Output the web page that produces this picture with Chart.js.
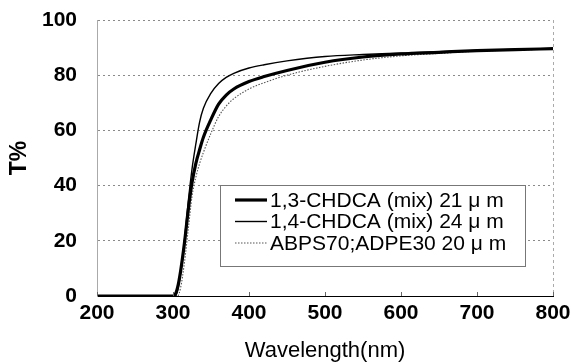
<!DOCTYPE html>
<html><head><meta charset="utf-8">
<script src="https://cdn.jsdelivr.net/npm/chart.js@4/dist/chart.umd.min.js"></script>
<style>html,body{margin:0;padding:0;background:#fff}#w{width:571px;height:364px;position:relative}</style>
</head><body><div id="w"><canvas id="c" width="571" height="364"></canvas></div>
<script>
const wavelengths = [200, 300, 303, 306, 310, 315, 320, 325, 330, 335, 340, 350, 360, 370, 380, 400, 420, 450, 500, 550, 600, 650, 700, 750, 800];
const chdca13 = [0, 0, 0.5, 3, 9, 19, 31, 41, 48, 53, 57.5, 64, 69.5, 72.8, 75, 77.7, 79.5, 81.7, 84.7, 86.6, 87.7, 88.3, 88.9, 89.3, 89.6];
const chdca14 = [0, 0, 0, 2, 8, 20, 34, 46, 55, 63, 68, 73.5, 77, 79.2, 80.7, 82.6, 83.8, 85.2, 86.8, 87.5, 88, 88.5, 89, 89.3, 89.6];
const abps = [0, 0, 0, 0, 3, 12, 24, 36, 43, 48, 52, 59, 65, 68.8, 71.5, 75, 77.3, 80, 83.2, 85.5, 87, 87.9, 88.7, 89.1, 89.5];
const seriesNames = ['1,3-CHDCA (mix) 21 \u03bc m', '1,4-CHDCA (mix) 24 \u03bc m', 'ABPS70;ADPE30 20 \u03bc m'];
const xTicks = [200, 300, 400, 500, 600, 700, 800];
const yTicks = [0, 20, 40, 60, 80, 100];

const pts = arr => wavelengths.map((w, i) => ({x: w, y: arr[i]}));
const styles = [
  {borderColor: '#000', borderWidth: 3.2, borderDash: []},
  {borderColor: '#000', borderWidth: 1.4, borderDash: []},
  {borderColor: '#555', borderWidth: 1.1, borderDash: [1.5, 1.5]}
];
const datasets = [chdca13, chdca14, abps].map((a, i) => Object.assign({
  label: seriesNames[i], data: pts(a), pointRadius: 0, fill: false,
  cubicInterpolationMode: 'monotone'
}, styles[i]));

const FONT = '"Liberation Sans", Arial, sans-serif';

const extras = {
  id: 'extras',
  afterDraw(chart) {
    const ctx = chart.ctx, a = chart.chartArea, xs = chart.scales.x;
    ctx.save();
    ctx.strokeStyle = '#aaa'; ctx.lineWidth = 1; ctx.setLineDash([3, 3]);
    ctx.beginPath(); ctx.moveTo(a.right + 0.5, a.top); ctx.lineTo(a.right + 0.5, a.bottom); ctx.stroke();
    ctx.setLineDash([]);
    ctx.strokeStyle = '#666';
    xTicks.forEach(v => {
      const px = Math.round(xs.getPixelForValue(v)) + 0.5;
      ctx.beginPath(); ctx.moveTo(px, a.bottom); ctx.lineTo(px, a.bottom - 4); ctx.stroke();
    });
    const lx = 220, ly = 185, lw = 305, lh = 81;
    ctx.fillStyle = '#fff'; ctx.fillRect(lx, ly, lw, lh);
    ctx.strokeStyle = '#777'; ctx.lineWidth = 1;
    ctx.strokeRect(lx + 0.5, ly + 0.5, lw, lh);
    ctx.font = '21px ' + FONT; ctx.textBaseline = 'middle'; ctx.fillStyle = '#000';
    chart.data.datasets.forEach((d, i) => {
      const y = ly + 15 + i * 21.5;
      ctx.strokeStyle = d.borderColor; ctx.lineWidth = d.borderWidth; ctx.setLineDash(d.borderDash);
      ctx.beginPath(); ctx.moveTo(lx + 15, y); ctx.lineTo(lx + 47, y); ctx.stroke();
      ctx.setLineDash([]);
      ctx.fillText(d.label, lx + 50, y + 1);
    });
    ctx.restore();
  }
};

new Chart(document.getElementById('c'), {
  type: 'line',
  data: {datasets},
  options: {
    responsive: false, animation: false,
    layout: {padding: {top: 20, right: 18, left: 0, bottom: 0}},
    plugins: {legend: {display: false}, tooltip: {enabled: false}},
    scales: {
      x: {
        type: 'linear', min: 200, max: 800,
        afterBuildTicks: s => { s.ticks = xTicks.map(v => ({value: v})); },
        afterFit: s => { s.height = 68; s.paddingLeft = 0; s.paddingRight = 0; },
        grid: {display: false, drawTicks: false},
        border: {display: true, color: '#000', width: 1},
        ticks: {font: {family: FONT, size: 21, weight: 'bold'}, color: '#000', padding: 5, maxRotation: 0},
        title: {display: true, text: 'Wavelength(nm)', font: {family: FONT, size: 22}, color: '#000', padding: {top: 0, bottom: 0}}
      },
      y: {
        min: 0, max: 100,
        afterBuildTicks: s => { s.ticks = yTicks.map(v => ({value: v})); },
        afterFit: s => { s.width = 97; s.paddingTop = 0; s.paddingBottom = 0; },
        grid: {color: '#8a8a8a', lineWidth: 1, drawTicks: false},
        border: {display: true, color: '#aaa', dash: [2, 3]},
        ticks: {font: {family: FONT, size: 21, weight: 'bold'}, color: '#000', padding: 20},
        title: {display: true, text: 'T%', font: {family: FONT, size: 23, weight: 'bold'}, color: '#000', padding: {top: 6, bottom: 0}}
      }
    }
  },
  plugins: [extras]
});
</script></body></html>
